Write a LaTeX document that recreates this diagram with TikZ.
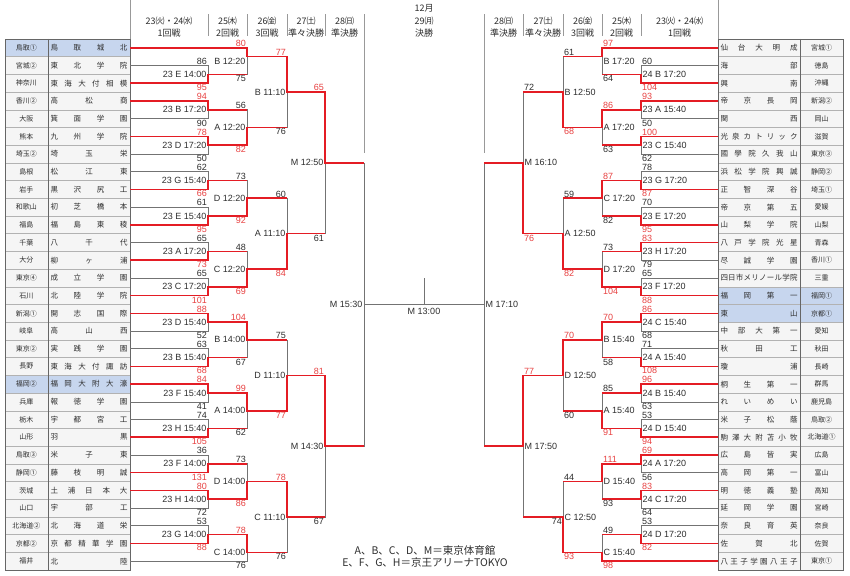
\documentclass[tikz,border=0pt]{standalone}
\usepackage{fontspec}
\setmainfont{Liberation Sans}
\newfontfamily\jp{Noto Sans CJK JP}
\definecolor{brkred}{RGB}{228,28,36}
\definecolor{scred}{RGB}{232,66,66}
\definecolor{hl}{RGB}{199,214,238}
\colorlet{cell}{black!4}
\colorlet{brkgray}{black!55}
\colorlet{txt}{black!82}

\newcommand{\spreadname}[1]{\makebox[77pt][s]{\expandafter\sprfirst#1\relax}}
\def\sprfirst#1{#1\sprrest}
\def\sprrest#1{\ifx\relax#1\else\hfill#1\expandafter\sprrest\fi}

\tikzset{
  bline/.style={draw=brkgray, line width=0.7pt},
  win/.style={draw=brkred, line width=1.6pt},
  hsep/.style={draw=black!40, line width=0.5pt},
  tbl/.style={draw=black!60, line width=0.6pt},
  pref/.style={draw=black!30, line width=0.4pt, minimum width=43pt, minimum height=17.7pt,
    inner sep=0pt, outer sep=0pt, text=txt, font=\jp\fontsize{7}{8}\selectfont},
  team/.style={pref, minimum width=82pt, font=\jp\fontsize{7.5}{8}\selectfont},
  hdr/.style={text=txt, inner sep=0pt, font=\jp\fontsize{9}{10}\selectfont},
  glabl/.style={text=txt, inner sep=1.5pt, anchor=east, font=\fontsize{9}{10}\selectfont},
  glabr/.style={glabl, anchor=west},
  score/.style={text=txt, inner sep=1pt, font=\fontsize{9}{10}\selectfont},
  lsup/.style={score, anchor=south east}, lsdn/.style={score, anchor=north east},
  lsupw/.style={lsup, text=scred}, lsdnw/.style={lsdn, text=scred},
  rsup/.style={score, anchor=south west}, rsdn/.style={score, anchor=north west},
  rsupw/.style={rsup, text=scred}, rsdnw/.style={rsdn, text=scred},
  note/.style={text=txt, align=center, font=\jp\fontsize{10.5}{12}\selectfont}
}

\begin{document}
\begin{tikzpicture}[x=1pt, y=-17.7pt]
	\path[fill=white] (0,-2.2034) rectangle (850,30.2826);
	\useasboundingbox (0,-2.2034) rectangle (850,30.2826);

	% header
	\foreach \x/\d/\n [count=\k] in {169/23㈫・24㈬/1回戦, 227.5/25㈭/2回戦, 267/26㈮/3回戦,
	  306/27㈯/準々決勝, 344.5/28㈰/準決勝, 424/29㈪/決勝, 503.5/28㈰/準決勝, 543/27㈯/準々決勝,
	  582.5/26㈮/3回戦, 621.5/25㈭/2回戦, 679.5/23㈫・24㈬/1回戦}{
		\node[hdr] (hd\k) at (\x,-1.03) {\d};
		\node[hdr] (hr\k) at (\x,-0.32) {\n};
	}
	\node[hdr] (hm) at (424,-1.75) {12月};
	\foreach \x in {208,247,287,325,523,563,602,641}
		\draw[hsep] (\x,-1.41) -- (\x,-0.17);
	\foreach \x in {364,484}
		\draw[hsep] (\x,-1.41) -- (\x,6.44);

	% left table
	\foreach \i/\p/\nm/\hc in {1/鳥取①/鳥取城北/hl, 2/宮城②/東北学院/cell, 3/神奈川/東海大付相模/cell,
	  4/香川②/高松商/cell, 5/大阪/箕面学園/cell, 6/熊本/九州学院/cell, 7/埼玉②/埼玉栄/cell,
	  8/島根/松江東/cell, 9/岩手/黒沢尻工/cell, 10/和歌山/初芝橋本/cell, 11/福島/福島東稜/cell,
	  12/千葉/八千代/cell, 13/大分/柳ヶ浦/cell, 14/東京④/成立学園/cell, 15/石川/北陸学院/cell,
	  16/新潟①/開志国際/cell, 17/岐阜/高山西/cell, 18/東京②/実践学園/cell, 19/長野/東海大付諏訪/cell,
	  20/福岡②/福岡大附大濠/hl, 21/兵庫/報徳学園/cell, 22/栃木/宇都宮工/cell, 23/山形/羽黒/cell,
	  24/鳥取③/米子東/cell, 25/静岡①/藤枝明誠/cell, 26/茨城/土浦日本大/cell, 27/山口/宇部工/cell,
	  28/北海道②/北海道栄/cell, 29/京都②/京都精華学園/cell, 30/福井/北陸/cell}{
		\node[pref, fill=\hc] (lp\i) at (26.5,\i-0.5) {\p};
		\node[team, fill=\hc] (lt\i) at (89,\i-0.5) {\spreadname{\nm}};
	}
	\draw[tbl] (lp1.north west) rectangle (lt30.south east);
	\draw[tbl] (lt1.north west) -- (lt30.south west);
	\draw[hsep] (130,-2.2034) -- (lt1.north east);

	% right table
	\foreach \i/\p/\nm/\hc in {1/宮城①/仙台大明成/cell, 2/徳島/海部/cell, 3/沖縄/興南/cell,
	  4/新潟②/帝京長岡/cell, 5/岡山/関西/cell, 6/滋賀/光泉カトリック/cell, 7/東京③/國學院久我山/cell,
	  8/静岡②/浜松学院興誠/cell, 9/埼玉①/正智深谷/cell, 10/愛媛/帝京第五/cell, 11/山梨/山梨学院/cell,
	  12/青森/八戸学院光星/cell, 13/香川①/尽誠学園/cell, 14/三重/四日市メリノール学院/cell,
	  15/福岡①/福岡第一/hl, 16/京都①/東山/hl, 17/愛知/中部大第一/cell, 18/秋田/秋田工/cell,
	  19/長崎/瓊浦/cell, 20/群馬/桐生第一/cell, 21/鹿児島/れいめい/cell, 22/鳥取②/米子松蔭/cell,
	  23/北海道①/駒澤大附苫小牧/cell, 24/広島/広島皆実/cell, 25/富山/高岡第一/cell, 26/高知/明徳義塾/cell,
	  27/宮崎/延岡学園/cell, 28/奈良/奈良育英/cell, 29/佐賀/佐賀北/cell, 30/東京①/八王子学園八王子/cell}{
		\node[team, fill=\hc] (rt\i) at (759,\i-0.5) {\spreadname{\nm}};
		\node[pref, fill=\hc] (rp\i) at (821.5,\i-0.5) {\p};
	}
	\draw[tbl] (rt1.north west) rectangle (rp30.south east);
	\draw[tbl] (rp1.north west) -- (rp30.south west);
	\draw[hsep] (718,-2.2034) -- (rt1.north west);

	% games, left
	\foreach \g/\x/\r/\lr/\t in {l23E1400/208/2/2/23 E 14:00, l23B1720/208/4/4/23 B 17:20,
	  l23D1720/208/6/6/23 D 17:20, l23G1540/208/8/8/23 G 15:40, l23E1540/208/10/10/23 E 15:40,
	  l23A1720/208/12/12/23 A 17:20, l23C1720/208/14/14/23 C 17:20, l23D1540/208/16/16/23 D 15:40,
	  l23B1540/208/18/18/23 B 15:40, l23F1540/208/20/20/23 F 15:40, l23H1540/208/22/22/23 H 15:40,
	  l23F1400/208/24/24/23 F 14:00, l23H1400/208/26/26/23 H 14:00, l23G1400/208/28/28/23 G 14:00,
	  lB1220/247/1/1.25/B 12:20, lA1220/247/5/5/A 12:20, lD1220/247/9/9/D 12:20, lC1220/247/13/13/C 12:20,
	  lB1400/247/17/17/B 14:00, lA1400/247/21/21/A 14:00, lD1400/247/25/25/D 14:00, lC1400/247/29/29/C 14:00,
	  lB1110/287/3/3/B 11:10, lA1110/287/11/11/A 11:10, lD1110/287/19/19/D 11:10, lC1110/287/27/27/C 11:10,
	  lM1250/325/7/7/M 12:50, lM1430/325/23/23/M 14:30, lM1530/364/15/15/M 15:30}{
		\coordinate (\g) at (\x,\r);
		\node[glabl] (t\g) at (\x,\lr) {\t};
	}

	% games, right
	\foreach \g/\x/\r/\lr/\t in {r24B1720/641/2/2/24 B 17:20, r23A1540/641/4/4/23 A 15:40,
	  r23C1540/641/6/6/23 C 15:40, r23G1720/641/8/8/23 G 17:20, r23E1720/641/10/10/23 E 17:20,
	  r23H1720/641/12/12/23 H 17:20, r23F1720/641/14/14/23 F 17:20, r24C1540/641/16/16/24 C 15:40,
	  r24A1540/641/18/18/24 A 15:40, r24B1540/641/20/20/24 B 15:40, r24D1540/641/22/22/24 D 15:40,
	  r24A1720/641/24/24/24 A 17:20, r24C1720/641/26/26/24 C 17:20, r24D1720/641/28/28/24 D 17:20,
	  rB1720/602/1/1.25/B 17:20, rA1720/602/5/5/A 17:20, rC1720/602/9/9/C 17:20, rD1720/602/13/13/D 17:20,
	  rB1540/602/17/17/B 15:40, rA1540/602/21/21/A 15:40, rD1540/602/25/25/D 15:40, rC1540/602/29/29/C 15:40,
	  rB1250/563/3/3/B 12:50, rA1250/563/11/11/A 12:50, rD1250/563/19/19/D 12:50, rC1250/563/27/27/C 12:50,
	  rM1610/523/7/7/M 16:10, rM1750/523/23/23/M 17:50, rM1710/484/15/15/M 17:10}{
		\coordinate (\g) at (\x,\r);
		\node[glabr] (t\g) at (\x,\lr) {\t};
	}

	% bracket
	\foreach \i/\g in {1/lB1220, 2/l23E1400, 3/l23E1400, 4/l23B1720, 5/l23B1720, 6/l23D1720,
	  7/l23D1720, 8/l23G1540, 9/l23G1540, 10/l23E1540, 11/l23E1540, 12/l23A1720, 13/l23A1720,
	  14/l23C1720, 15/l23C1720, 16/l23D1540, 17/l23D1540, 18/l23B1540, 19/l23B1540, 20/l23F1540,
	  21/l23F1540, 22/l23H1540, 23/l23H1540, 24/l23F1400, 25/l23F1400, 26/l23H1400, 27/l23H1400,
	  28/l23G1400, 29/l23G1400, 30/lC1400}
		\draw[bline] (lt\i.east) -| (\g);
	\foreach \g/\h in {l23E1400/lB1220, l23B1720/lA1220, l23D1720/lA1220, l23G1540/lD1220,
	  l23E1540/lD1220, l23A1720/lC1220, l23C1720/lC1220, l23D1540/lB1400, l23B1540/lB1400,
	  l23F1540/lA1400, l23H1540/lA1400, l23F1400/lD1400, l23H1400/lD1400, l23G1400/lC1400,
	  lB1220/lB1110, lA1220/lB1110, lD1220/lA1110, lC1220/lA1110, lB1400/lD1110, lA1400/lD1110,
	  lD1400/lC1110, lC1400/lC1110, lB1110/lM1250, lA1110/lM1250, lD1110/lM1430, lC1110/lM1430,
	  lM1250/lM1530, lM1430/lM1530}
		\draw[bline] (\g) -| (\h);
	\foreach \i/\g in {1/rB1720, 2/r24B1720, 3/r24B1720, 4/r23A1540, 5/r23A1540, 6/r23C1540,
	  7/r23C1540, 8/r23G1720, 9/r23G1720, 10/r23E1720, 11/r23E1720, 12/r23H1720, 13/r23H1720,
	  14/r23F1720, 15/r23F1720, 16/r24C1540, 17/r24C1540, 18/r24A1540, 19/r24A1540, 20/r24B1540,
	  21/r24B1540, 22/r24D1540, 23/r24D1540, 24/r24A1720, 25/r24A1720, 26/r24C1720, 27/r24C1720,
	  28/r24D1720, 29/r24D1720, 30/rC1540}
		\draw[bline] (rt\i.west) -| (\g);
	\foreach \g/\h in {r24B1720/rB1720, r23A1540/rA1720, r23C1540/rA1720, r23G1720/rC1720,
	  r23E1720/rC1720, r23H1720/rD1720, r23F1720/rD1720, r24C1540/rB1540, r24A1540/rB1540,
	  r24B1540/rA1540, r24D1540/rA1540, r24A1720/rD1540, r24C1720/rD1540, r24D1720/rC1540,
	  rB1720/rB1250, rA1720/rB1250, rC1720/rA1250, rD1720/rA1250, rB1540/rD1250, rA1540/rD1250,
	  rD1540/rC1250, rC1540/rC1250, rB1250/rM1610, rA1250/rM1610, rD1250/rM1750, rC1250/rM1750,
	  rM1610/rM1710, rM1750/rM1710}
		\draw[bline] (\g) -| (\h);
	\coordinate (fM1300) at (424,15);
	\draw[bline] (lM1530) -- (rM1710);
	\draw[bline] (fM1300) -- ++(0,-1.5);
	\node[glabl, anchor=north, inner sep=2pt, yshift=-2pt] (tfM1300) at (fM1300) {M 13:00};

	% winners
	\draw[win] (lt1.east) -| (lB1220) -| (lB1110) -| (lM1250) -- (lM1530 |- lM1250);
	\draw[win] (lt3.east) -| (l23E1400) -- (lB1220 |- l23E1400);
	\draw[win] (lt4.east) -| (l23B1720) -- (lA1220 |- l23B1720);
	\draw[win] (lt6.east) -| (l23D1720) -| (lA1220) -- (lB1110 |- lA1220);
	\draw[win] (lt9.east) -| (l23G1540) -- (lD1220 |- l23G1540);
	\draw[win] (lt11.east) -| (l23E1540) -| (lD1220) -- (lA1110 |- lD1220);
	\draw[win] (lt13.east) -| (l23A1720) -- (lC1220 |- l23A1720);
	\draw[win] (lt15.east) -| (l23C1720) -| (lC1220) -| (lA1110) -- (lM1250 |- lA1110);
	\draw[win] (lt16.east) -| (l23D1540) -| (lB1400) -- (lD1110 |- lB1400);
	\draw[win] (lt19.east) -| (l23B1540) -- (lB1400 |- l23B1540);
	\draw[win] (lt20.east) -| (l23F1540) -| (lA1400) -| (lD1110) -| (lM1430) -- (lM1530 |- lM1430);
	\draw[win] (lt23.east) -| (l23H1540) -- (lA1400 |- l23H1540);
	\draw[win] (lt25.east) -| (l23F1400) -- (lD1400 |- l23F1400);
	\draw[win] (lt26.east) -| (l23H1400) -| (lD1400) -| (lC1110) -- (lM1430 |- lC1110);
	\draw[win] (lt29.east) -| (l23G1400) -| (lC1400) -- (lC1110 |- lC1400);
	\draw[win] (rt1.west) -| (rB1720) -- (rB1250 |- rB1720);
	\draw[win] (rt3.west) -| (r24B1720) -- (rB1720 |- r24B1720);
	\draw[win] (rt4.west) -| (r23A1540) -| (rA1720) -| (rB1250) -- (rM1610 |- rB1250);
	\draw[win] (rt6.west) -| (r23C1540) -- (rA1720 |- r23C1540);
	\draw[win] (rt9.west) -| (r23G1720) -| (rC1720) -- (rA1250 |- rC1720);
	\draw[win] (rt11.west) -| (r23E1720) -- (rC1720 |- r23E1720);
	\draw[win] (rt12.west) -| (r23H1720) -- (rD1720 |- r23H1720);
	\draw[win] (rt15.west) -| (r23F1720) -| (rD1720) -| (rA1250) -| (rM1610) -- (rM1710 |- rM1610);
	\draw[win] (rt16.west) -| (r24C1540) -| (rB1540) -| (rD1250) -| (rM1750) -- (rM1710 |- rM1750);
	\draw[win] (rt19.west) -| (r24A1540) -- (rB1540 |- r24A1540);
	\draw[win] (rt20.west) -| (r24B1540) -- (rA1540 |- r24B1540);
	\draw[win] (rt23.west) -| (r24D1540) -| (rA1540) -- (rD1250 |- rA1540);
	\draw[win] (rt24.west) -| (r24A1720) -| (rD1540) -- (rC1250 |- rD1540);
	\draw[win] (rt26.west) -| (r24C1720) -- (rD1540 |- r24C1720);
	\draw[win] (rt29.west) -| (r24D1720) -- (rC1540 |- r24D1720);
	\draw[win] (rt30.west) -| (rC1540) -| (rC1250) -- (rM1750 |- rC1250);

	% scores
	\foreach \x/\r/\st/\sc [count=\k] in {208/1.5/lsup/86, 208/2.5/lsdnw/95, 208/3.5/lsupw/94,
	  208/4.5/lsdn/90, 208/5.5/lsupw/78, 208/6.5/lsdn/50, 208/7.5/lsup/62, 208/8.5/lsdnw/66,
	  208/9.5/lsup/61, 208/10.5/lsdnw/95, 208/11.5/lsup/65, 208/12.5/lsdnw/73, 208/13.5/lsup/65,
	  208/14.5/lsdnw/101, 208/15.5/lsupw/88, 208/16.5/lsdn/52, 208/17.5/lsup/63, 208/18.5/lsdnw/68,
	  208/19.5/lsupw/84, 208/20.5/lsdn/41, 208/21.5/lsup/74, 208/22.5/lsdnw/105, 208/23.5/lsup/36,
	  208/24.5/lsdnw/131, 208/25.5/lsupw/80, 208/26.5/lsdn/72, 208/27.5/lsup/53, 208/28.5/lsdnw/88,
	  247/0.5/lsupw/80, 247/2/lsdn/75, 247/4/lsup/56, 247/6/lsdnw/82, 247/8/lsup/73, 247/10/lsdnw/92,
	  247/12/lsup/48, 247/14/lsdnw/69, 247/16/lsupw/104, 247/18/lsdn/67, 247/20/lsupw/99,
	  247/22/lsdn/62, 247/24/lsup/73, 247/26/lsdnw/86, 247/28/lsupw/78, 247/29.5/lsdn/76,
	  287/1/lsupw/77, 287/5/lsdn/76, 287/9/lsup/60, 287/13/lsdnw/84, 287/17/lsup/75, 287/21/lsdnw/77,
	  287/25/lsupw/78, 287/29/lsdn/76, 325/3/lsupw/65, 325/11/lsdn/61, 325/19/lsupw/81, 325/27/lsdn/67}
		\node[\st] (sl\k) at (\x,\r) {\sc};
	\foreach \x/\r/\st/\sc [count=\k] in {641/1.5/rsup/60, 641/2.5/rsdnw/104, 641/3.5/rsupw/93,
	  641/4.5/rsdn/50, 641/5.5/rsupw/100, 641/6.5/rsdn/62, 641/7.5/rsup/78, 641/8.5/rsdnw/87,
	  641/9.5/rsup/70, 641/10.5/rsdnw/95, 641/11.5/rsupw/83, 641/12.5/rsdn/79, 641/13.5/rsup/65,
	  641/14.5/rsdnw/88, 641/15.5/rsupw/86, 641/16.5/rsdn/68, 641/17.5/rsup/71, 641/18.5/rsdnw/108,
	  641/19.5/rsupw/96, 641/20.5/rsdn/63, 641/21.5/rsup/53, 641/22.5/rsdnw/94, 641/23.5/rsupw/69,
	  641/24.5/rsdn/56, 641/25.5/rsupw/83, 641/26.5/rsdn/64, 641/27.5/rsup/53, 641/28.5/rsdnw/82,
	  602/0.5/rsupw/97, 602/2/rsdn/64, 602/4/rsupw/86, 602/6/rsdn/63, 602/8/rsupw/87, 602/10/rsdn/82,
	  602/12/rsup/73, 602/14/rsdnw/104, 602/16/rsupw/70, 602/18/rsdn/58, 602/20/rsup/85,
	  602/22/rsdnw/91, 602/24/rsupw/111, 602/26/rsdn/93, 602/28/rsup/49, 602/29.5/rsdnw/98,
	  563/1/rsup/61, 563/5/rsdnw/68, 563/9/rsup/59, 563/13/rsdnw/82, 563/17/rsupw/70, 563/21/rsdn/60,
	  563/25/rsup/44, 563/29/rsdnw/93, 523/3/rsup/72, 523/11/rsdnw/76, 523/19/rsupw/77, 563/27/lsdn/74}
		\node[\st] (sr\k) at (\x,\r) {\sc};

	\node[note] (note) at (425,29.21) {A、B、C、D、M＝東京体育館\\E、F、G、H＝京王アリーナTOKYO};
\end{tikzpicture}
\end{document}
